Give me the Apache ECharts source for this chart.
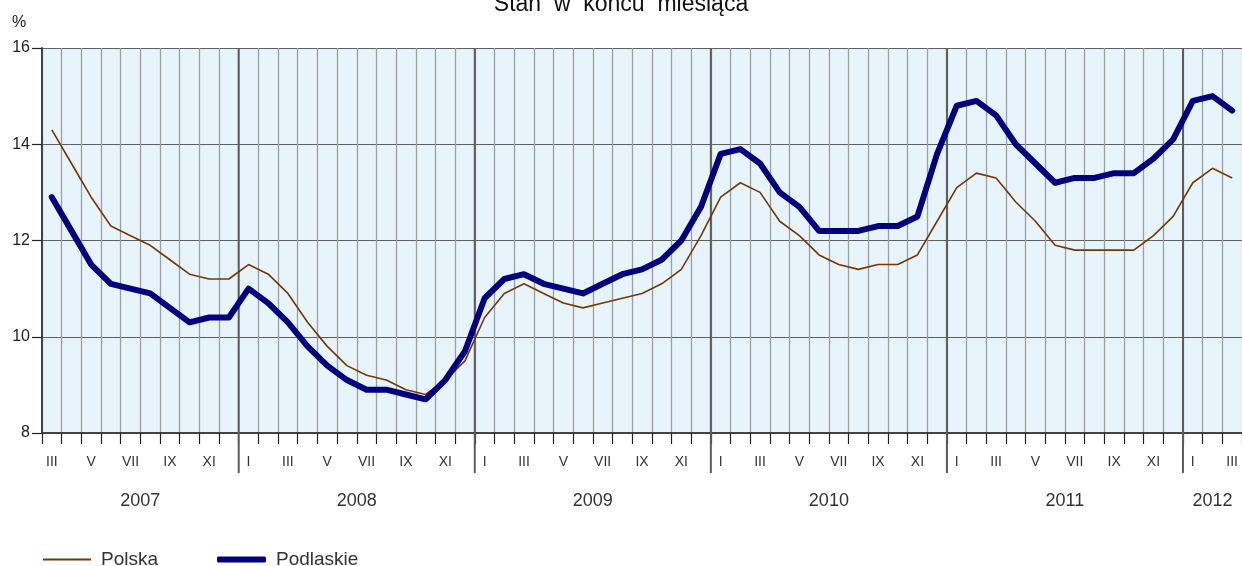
<!DOCTYPE html>
<html>
<head>
<meta charset="utf-8">
<script src="https://cdn.jsdelivr.net/npm/echarts@6/dist/echarts.min.js"></script>
<style>
  html, body { margin: 0; padding: 0; background: #fff; }
  #chart { width: 1242px; height: 566px; }
</style>
</head>
<body>
<div id="chart"></div>
<script>
// ---- data ----
const years = ['2007', '2008', '2009', '2010', '2011', '2012'];
const romanMonths = ['I', 'II', 'III', 'IV', 'V', 'VI', 'VII', 'VIII', 'IX', 'X', 'XI', 'XII'];
const startMonth = 3;   // III 2007
const endMonth = 3;     // III 2012
const polska = [
  14.3, 13.6, 12.9, 12.3, 12.1, 11.9, 11.6, 11.3, 11.2, 11.2,
  11.5, 11.3, 10.9, 10.3, 9.8, 9.4, 9.2, 9.1, 8.9, 8.8, 9.1, 9.5,
  10.4, 10.9, 11.1, 10.9, 10.7, 10.6, 10.7, 10.8, 10.9, 11.1, 11.4, 12.1,
  12.9, 13.2, 13.0, 12.4, 12.1, 11.7, 11.5, 11.4, 11.5, 11.5, 11.7, 12.4,
  13.1, 13.4, 13.3, 12.8, 12.4, 11.9, 11.8, 11.8, 11.8, 11.8, 12.1, 12.5,
  13.2, 13.5, 13.3
];
const podlaskie = [
  12.9, 12.2, 11.5, 11.1, 11.0, 10.9, 10.6, 10.3, 10.4, 10.4,
  11.0, 10.7, 10.3, 9.8, 9.4, 9.1, 8.9, 8.9, 8.8, 8.7, 9.1, 9.7,
  10.8, 11.2, 11.3, 11.1, 11.0, 10.9, 11.1, 11.3, 11.4, 11.6, 12.0, 12.7,
  13.8, 13.9, 13.6, 13.0, 12.7, 12.2, 12.2, 12.2, 12.3, 12.3, 12.5, 13.8,
  14.8, 14.9, 14.6, 14.0, 13.6, 13.2, 13.3, 13.3, 13.4, 13.4, 13.7, 14.1,
  14.9, 15.0, 14.7
];
const yTicks = { min: 8, max: 16, interval: 2 };

// ---- build categories ----
const categories = [];
const catYear = [];
years.forEach((y, yi) => {
  const m0 = yi === 0 ? startMonth : 1;
  const m1 = yi === years.length - 1 ? endMonth : 12;
  for (let m = m0; m <= m1; m++) { categories.push(romanMonths[m - 1]); catYear.push(y); }
});
const yearSpans = years.map(y => {
  const f = catYear.indexOf(y), l = catYear.lastIndexOf(y);
  return [f, yTicks.min, l];
});
const yearBoundaries = yearSpans.slice(1).map(s => [s[0], yTicks.min]);

const chart = echarts.init(document.getElementById('chart'));
const font = '"Liberation Sans", Arial, sans-serif';
const legendText = { fontFamily: font, fontSize: 19, color: '#333', padding: [0, 0, 0, 5] };

chart.setOption({
  animation: false,
  title: {
    text: 'Stan  w  końcu  miesiąca',
    left: 'center',
    top: -12,
    textStyle: { fontFamily: font, fontSize: 23, fontWeight: 'normal', color: '#111' }
  },
  graphic: [{
    type: 'text', left: 12, top: 15,
    style: { text: '%', fontFamily: font, fontSize: 16, fill: '#222' }
  }],
  grid: {
    left: 42, top: 48, width: 1203, height: 385,
    show: true, backgroundColor: '#e8f4fb', borderWidth: 0
  },
  legend: [
    {
      left: 43, top: 550, padding: 0, itemWidth: 48, itemHeight: 2, icon: 'rect',
      data: ['Polska'], textStyle: legendText
    },
    {
      left: 217, top: 550, padding: 0, itemWidth: 49, itemHeight: 6, icon: 'roundRect',
      data: ['Podlaskie'], textStyle: legendText
    }
  ],
  xAxis: {
    type: 'category',
    data: categories,
    boundaryGap: true,
    axisLine: { show: true, lineStyle: { color: '#444', width: 2 } },
    axisTick: { show: true, interval: 0, length: 11, lineStyle: { color: '#222', width: 1.2 } },
    axisLabel: {
      interval: 1, margin: 22,
      fontFamily: '"Liberation Sans Narrow", "Liberation Sans", Arial, sans-serif',
      fontSize: 14, color: '#333'
    },
    splitLine: { show: true, interval: 0, lineStyle: { color: '#9c9fa2', width: 1.3 } }
  },
  yAxis: {
    type: 'value',
    min: yTicks.min, max: yTicks.max, interval: yTicks.interval,
    axisLine: { show: true, lineStyle: { color: '#444', width: 2 } },
    axisTick: { show: true, length: 10, lineStyle: { color: '#222', width: 1.2 } },
    axisLabel: { fontFamily: font, fontSize: 16, color: '#222', margin: 12 },
    splitLine: { show: true, lineStyle: { color: '#5f5f5f', width: 1.2 } }
  },
  series: [
    {
      name: 'Polska', type: 'line', data: polska, symbol: 'none',
      lineStyle: { color: '#743806', width: 1.6 }, itemStyle: { color: '#743806' },
      z: 3
    },
    {
      name: 'Podlaskie', type: 'line', data: podlaskie, symbol: 'none',
      lineStyle: { color: '#00007f', width: 6, cap: 'round', join: 'round' }, itemStyle: { color: '#00007f' },
      z: 4
    },
    {
      type: 'custom', name: 'yearLines', data: yearBoundaries, clip: false, silent: true, z: 2,
      renderItem: function (params, api) {
        const idx = api.value(0);
        const band = api.size([1, 0])[0];
        const top = api.coord([idx, yTicks.max]);
        const bot = api.coord([idx, yTicks.min]);
        const x = top[0] - band / 2;
        return {
          type: 'line',
          shape: { x1: x, y1: top[1], x2: x, y2: bot[1] + 40 },
          style: { stroke: '#5c5c5c', lineWidth: 2 }
        };
      }
    },
    {
      type: 'custom', name: 'yearLabels', data: yearSpans, clip: false, silent: true, z: 2,
      renderItem: function (params, api) {
        const a = api.coord([api.value(0), yTicks.min]);
        const b = api.coord([api.value(2), yTicks.min]);
        return {
          type: 'text',
          style: {
            text: years[params.dataIndex], x: (a[0] + b[0]) / 2, y: a[1] + 68,
            textAlign: 'center', textVerticalAlign: 'middle',
            fontFamily: font, fontSize: 18, fill: '#333'
          }
        };
      }
    }
  ]
});
</script>
</body>
</html>
